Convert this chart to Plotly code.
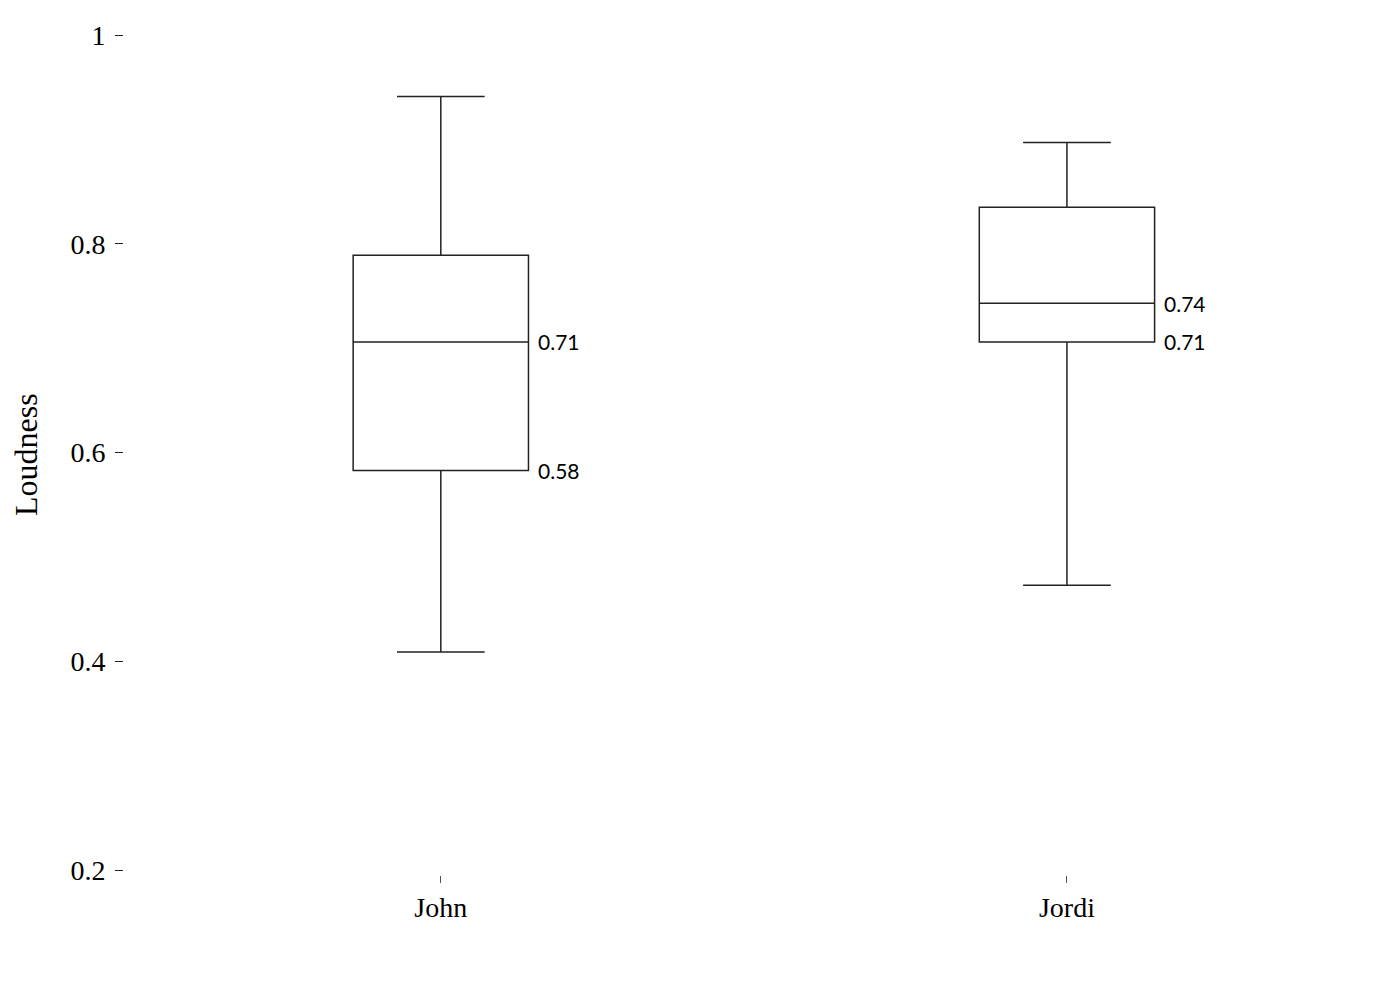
import plotly.graph_objects as go

singers = ["John", "Jordi"]
lower = [0.409, 0.473]
q1 = [0.583, 0.706]
median = [0.706, 0.743]
q3 = [0.789, 0.835]
upper = [0.941, 0.897]

fig = go.Figure()

fig.add_trace(go.Box(
    x=singers,
    q1=q1,
    median=median,
    q3=q3,
    lowerfence=lower,
    upperfence=upper,
    width=0.28,
    whiskerwidth=0.5,
    fillcolor="white",
    line=dict(color="#222222", width=1.5),
    boxpoints=False,
    hoverinfo="skip",
    showlegend=False,
))

# value labels beside each box (median and lower quartile)
for i, name in enumerate(singers):
    for v in [median[i], q1[i]]:
        fig.add_annotation(
            x=name, y=v, text=f"{v:.2f}",
            xanchor="left", yanchor="middle",
            xshift=95, showarrow=False,
            font=dict(family="Lato", size=21, color="black"),
        )

# y axis title placed by hand
fig.add_annotation(
    text="Loudness", textangle=-90,
    xref="paper", yref="paper", x=0, y=0.5,
    xanchor="center", yanchor="middle", xshift=-98,
    showarrow=False,
    font=dict(family="Liberation Serif", size=32, color="black"),
)

fig.update_layout(
    width=1400, height=1000,
    margin=dict(l=116, r=28, t=27, b=133),
    plot_bgcolor="white", paper_bgcolor="white",
    font=dict(family="Liberation Serif", size=28, color="black"),
)
fig.update_xaxes(
    type="category", range=[-0.506, 1.5], automargin=False,
    showgrid=False, zeroline=False, showline=False,
    ticks="outside", ticklen=7, tickcolor="#555555", tickwidth=1,
    tickfont=dict(family="Liberation Serif", size=28),
)
fig.update_yaxes(
    range=[0.1955, 1.0], automargin=False,
    tickvals=[0.2, 0.4, 0.6, 0.8, 1.0],
    ticktext=["0.2", "0.4", "0.6", "0.8", "1"],
    showgrid=False, zeroline=False, showline=False,
    ticks="outside", ticklen=8, tickcolor="#222222", tickwidth=1,
    ticklabelstandoff=4,
    tickfont=dict(family="Liberation Serif", size=28),
)

fig.write_html("out.html")
